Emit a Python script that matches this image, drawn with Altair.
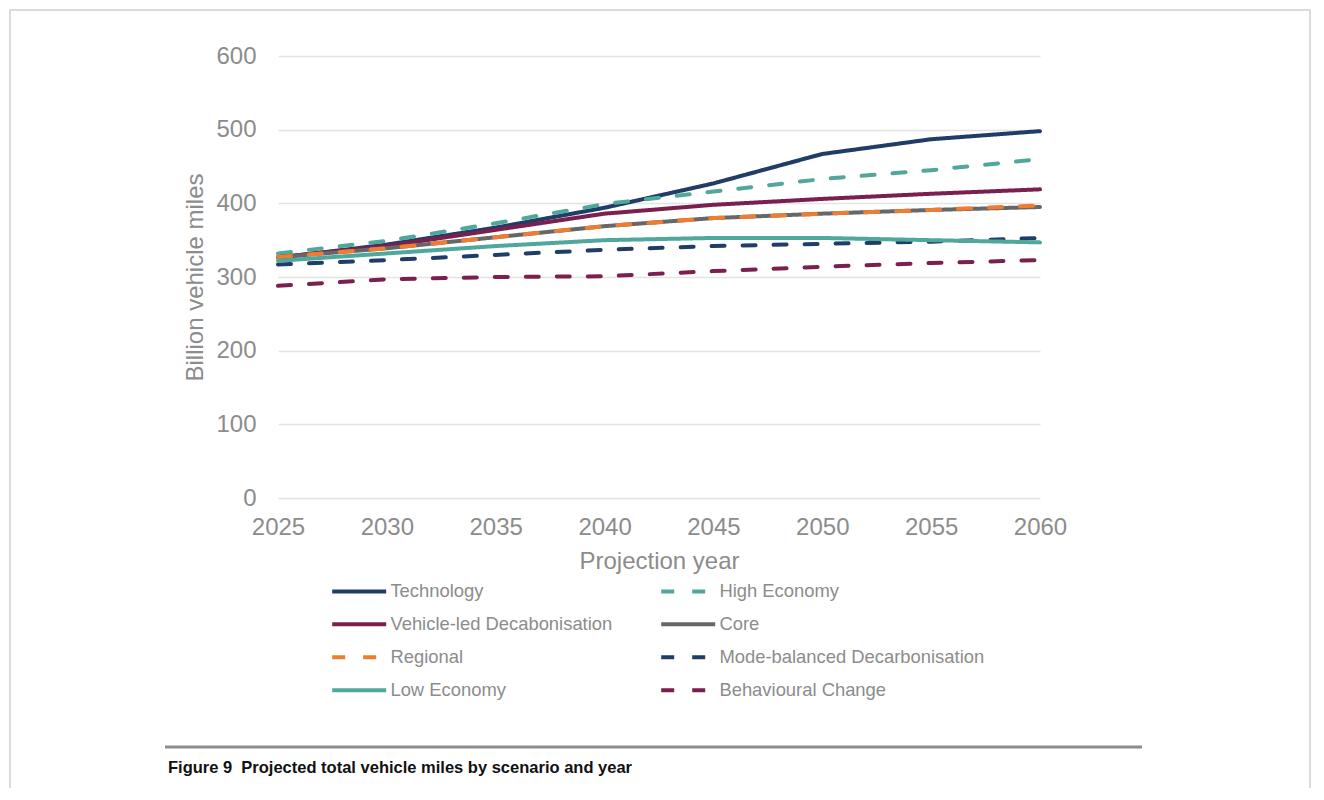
import altair as alt
import pandas as pd

years = [2025, 2030, 2035, 2040, 2045, 2050, 2055, 2060]

# data order (draw order): Core drawn before Regional so the orange dashes sit on top
scenarios = [
    "Technology", "High Economy", "Vehicle-led Decabonisation", "Core",
    "Regional", "Mode-balanced Decarbonisation", "Low Economy", "Behavioural Change",
]

technology = [326, 344, 367, 394, 427, 467, 487, 498]
high_economy = [332, 349, 373, 399, 416, 433, 445, 460]
vehicle_led = [327, 342, 364, 386, 398, 406, 413, 419]
core = [327, 339, 354, 369, 380, 386, 391, 395]
regional = [327, 339, 354, 369, 380, 386, 391, 397]
mode_balanced = [317, 323, 330, 337, 342, 345, 348, 353]
low_economy = [322, 332, 342, 350, 353, 353, 350, 347]
behavioural = [288, 297, 300, 301, 308, 314, 319, 323]

series_values = [technology, high_economy, vehicle_led, core, regional,
                 mode_balanced, low_economy, behavioural]

colors = ["#1f3d66", "#4fa89b", "#7a1f4e", "#676767",
          "#ee7d31", "#1f3d66", "#4fa89b", "#7a1f4e"]
dashes = [[1, 0], [13, 18], [1, 0], [1, 0],
          [13, 18], [13, 18], [1, 0], [13, 18]]

# legend is filled column by column: left column first, then right column
legend_order = [
    "Technology", "Vehicle-led Decabonisation", "Regional", "Low Economy",
    "High Economy", "Core", "Mode-balanced Decarbonisation", "Behavioural Change",
]
color_map = dict(zip(scenarios, colors))
dash_map = dict(zip(scenarios, dashes))
legend_colors = [color_map[s] for s in legend_order]
legend_dashes = [dash_map[s] for s in legend_order]

rows = []
for name, vals in zip(scenarios, series_values):
    for yr, v in zip(years, vals):
        rows.append({"Scenario": name, "Year": yr, "Miles": v})
df = pd.DataFrame(rows)

FONT = "Liberation Sans"
GRAY = "#8c8c8c"

leg = dict(title=None, orient="none", legendX=51, legendY=526,
           columns=2, columnPadding=40, rowPadding=14,
           symbolType="M-1,0H8", symbolSize=144,
           symbolStrokeWidth=4, symbolOffset=0,
           labelFontSize=18.4, labelColor=GRAY,
           labelFont=FONT, labelOffset=43, labelLimit=400)

lines = alt.Chart(df).mark_line(strokeWidth=4, strokeCap="round").encode(
    x=alt.X("Year:Q", scale=alt.Scale(domain=[2025, 2060], nice=False, zero=False),
            axis=alt.Axis(values=years, format="d", title="Projection year",
                          grid=False, ticks=False, domain=False,
                          labelFlush=False, labelOverlap=False,
                          labelFontSize=24, labelColor=GRAY, labelPadding=17,
                          titleFontSize=24, titleColor=GRAY, titleFontWeight="normal",
                          titlePadding=10, labelFont=FONT, titleFont=FONT)),
    y=alt.Y("Miles:Q", scale=alt.Scale(domain=[0, 600], nice=False),
            axis=alt.Axis(values=[0, 100, 200, 300, 400, 500, 600],
                          title="Billion vehicle miles", grid=True,
                          gridColor="#e3e3e3", gridWidth=1.3,
                          ticks=False, domain=False,
                          labelFontSize=24, labelColor=GRAY, labelPadding=22,
                          titleFontSize=24, titleColor=GRAY, titleFontWeight="normal",
                          titlePadding=8, labelFont=FONT, titleFont=FONT)),
    color=alt.Color("Scenario:N",
                    scale=alt.Scale(domain=legend_order, range=legend_colors),
                    legend=alt.Legend(**leg)),
    strokeDash=alt.StrokeDash("Scenario:N",
                              scale=alt.Scale(domain=legend_order, range=legend_dashes),
                              legend=alt.Legend(**leg)),
    detail="Scenario:N",
)

frame_df = pd.DataFrame({"k": [0]})
frame = alt.Chart(frame_df).mark_rect(fillOpacity=0, stroke="#d0d0d0", strokeWidth=1.5).encode(
    x=alt.value(-268), x2=alt.value(1032), y=alt.value(-46), y2=alt.value(734)
)
rule = alt.Chart(frame_df).mark_rule(color="#8c8c8c", strokeWidth=3).encode(
    x=alt.value(-113), x2=alt.value(864), y=alt.value(691)
)
caption = alt.Chart(frame_df).mark_text(
    text="Figure 9\u00a0 Projected total vehicle miles by scenario and year",
    font=FONT, fontSize=16.5, fontWeight="bold", color="#111111",
    align="left", baseline="middle"
).encode(x=alt.value(-110), y=alt.value(712))

chart = alt.layer(frame, lines, rule, caption).properties(
    width=762, height=442,
    autosize=alt.AutoSizeParams(type="none"),
    padding={"left": 270, "top": 48, "right": 276, "bottom": 290},
    background="white",
).configure_view(stroke=None)

chart.save("out.html", embed_options={"renderer": "svg", "actions": False})
